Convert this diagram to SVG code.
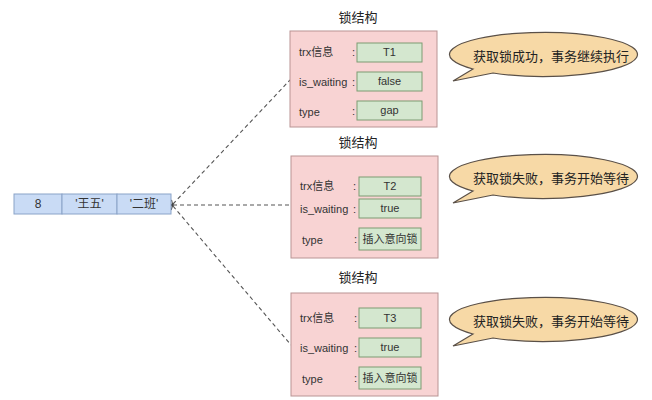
<svg xmlns="http://www.w3.org/2000/svg" width="652" height="400" viewBox="0 0 652 400">
<defs>
<style>
text{font-family:"Liberation Sans","Noto Sans CJK SC",sans-serif;fill:#333}
.title{font-size:13px;text-anchor:middle;fill:#222}
.lbl{font-size:11px}
.val{font-size:11px;text-anchor:middle}
.lock{fill:#f8d3d3;stroke:#b99494;stroke-width:1}
.inner{fill:#d4e7cf;stroke:#7d9b73;stroke-width:1}
.cell{fill:#c9dbf5;stroke:#8aa3c8;stroke-width:1}
.bub{fill:#f7d9a6;stroke:#5a5048;stroke-width:1.2}
.btxt{font-size:13px;text-anchor:middle;fill:#222}
.conn{fill:none;stroke:#555;stroke-width:1.1;stroke-dasharray:4 3}
</style>
<marker id="arr" viewBox="0 0 10 10" refX="1" refY="5" markerWidth="7" markerHeight="7" orient="auto-start-reverse" markerUnits="userSpaceOnUse">
<path d="M9,1 L1,5 L9,9" fill="none" stroke="#444" stroke-width="1.5"/>
</marker>
</defs>
<rect width="652" height="400" fill="#fff"/>

<g id="connectors">
<line class="conn" x1="173" y1="204" x2="290" y2="80" marker-start="url(#arr)"/>
<line class="conn" x1="173" y1="205" x2="292" y2="205" marker-start="url(#arr)"/>
<line class="conn" x1="173" y1="206" x2="291" y2="345" marker-start="url(#arr)"/>
</g>

<g id="record">
<rect class="cell" x="14" y="194" width="48" height="20"/>
<rect class="cell" x="62" y="194" width="55" height="20"/>
<rect class="cell" x="117" y="194" width="54" height="20"/>
<text class="val" x="38" y="208" style="font-size:12px">8</text>
<text class="val" x="89.5" y="208" style="font-size:12px">'王五'</text>
<text class="val" x="144" y="208" style="font-size:12px">'二班'</text>
</g>

<g id="lock1">
<text class="title" x="358" y="22">锁结构</text>
<rect class="lock" x="290" y="31" width="147" height="96"/>
<text class="lbl" x="299" y="56">trx信息</text>
<text class="lbl" x="352" y="56">:</text>
<rect class="inner" x="357" y="43" width="65" height="19"/>
<text class="val" x="389.5" y="56">T1</text>
<text class="lbl" x="299" y="86">is_waiting</text>
<text class="lbl" x="352" y="86">:</text>
<rect class="inner" x="357" y="72" width="65" height="19"/>
<text class="val" x="389.5" y="85">false</text>
<text class="lbl" x="299" y="116">type</text>
<text class="lbl" x="352" y="115">:</text>
<rect class="inner" x="357" y="101" width="65" height="19"/>
<text class="val" x="389.5" y="114">gap</text>
</g>

<g id="lock2">
<text class="title" x="358" y="147">锁结构</text>
<rect class="lock" x="291" y="156" width="147" height="102"/>
<text class="lbl" x="300" y="190">trx信息</text>
<text class="lbl" x="353" y="190">:</text>
<rect class="inner" x="359" y="177" width="62" height="19"/>
<text class="val" x="390" y="190">T2</text>
<text class="lbl" x="300" y="213">is_waiting</text>
<text class="lbl" x="353" y="213">:</text>
<rect class="inner" x="359" y="199" width="62" height="19"/>
<text class="val" x="390" y="212">true</text>
<text class="lbl" x="302" y="244">type</text>
<text class="lbl" x="354" y="243">:</text>
<rect class="inner" x="359" y="228" width="62" height="22"/>
<text class="val" x="390" y="243">插入意向锁</text>
</g>

<g id="lock3">
<text class="title" x="358" y="282">锁结构</text>
<rect class="lock" x="291" y="293" width="147" height="103"/>
<text class="lbl" x="300" y="322">trx信息</text>
<text class="lbl" x="354" y="322">:</text>
<rect class="inner" x="359" y="308" width="62" height="20"/>
<text class="val" x="390" y="322">T3</text>
<text class="lbl" x="300" y="352">is_waiting</text>
<text class="lbl" x="354" y="352">:</text>
<rect class="inner" x="359" y="338" width="62" height="19"/>
<text class="val" x="390" y="351">true</text>
<text class="lbl" x="302" y="383">type</text>
<text class="lbl" x="354" y="382">:</text>
<rect class="inner" x="359" y="367" width="62" height="22"/>
<text class="val" x="390" y="382">插入意向锁</text>
</g>

<g id="bubble1">
<path class="bub" d="M473,69 L453,81 L493,73 A94 22 0 1 0 473,69 Z"/>
<text class="btxt" x="551" y="61">获取锁成功，事务继续执行</text>
</g>
<g id="bubble2">
<path class="bub" d="M473,191 L453,203 L493,195 A94 22 0 1 0 473,191 Z"/>
<text class="btxt" x="551" y="183">获取锁失败，事务开始等待</text>
</g>
<g id="bubble3">
<path class="bub" d="M473,334 L453,346 L493,338 A94 22 0 1 0 473,334 Z"/>
<text class="btxt" x="551" y="326">获取锁失败，事务开始等待</text>
</g>
</svg>
